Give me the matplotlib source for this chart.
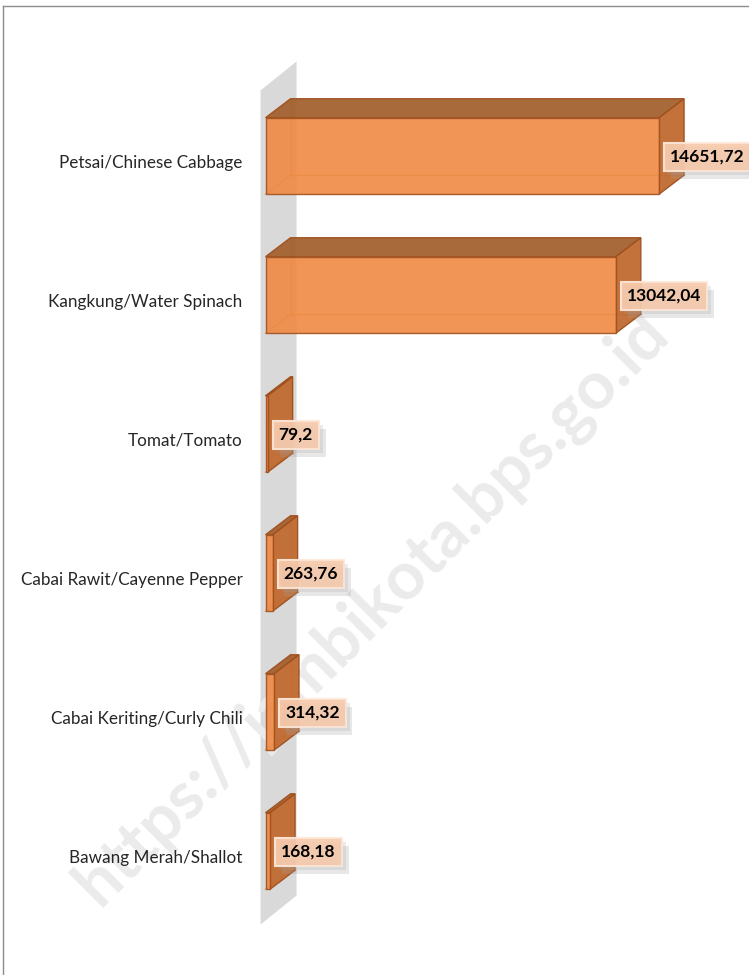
import matplotlib
matplotlib.use('Agg')
import matplotlib.pyplot as plt
import matplotlib.patheffects as pe
from matplotlib.patches import Polygon
from matplotlib.lines import Line2D
from matplotlib.transforms import offset_copy
import numpy as np

categories = ['Petsai/Chinese Cabbage', 'Kangkung/Water Spinach', 'Tomat/Tomato',
              'Cabai Rawit/Cayenne Pepper', 'Cabai Keriting/Curly Chili',
              'Bawang Merah/Shallot']
values = [14651.72, 13042.04, 79.2, 263.76, 314.32, 168.18]
value_labels = ['14651,72', '13042,04', '79,2', '263,76', '314,32', '168,18']
watermark = 'https://jambikota.bps.go.id'

W, H = 749, 975
plt.rcParams['font.family'] = ['Lato', 'DejaVu Sans']

fig = plt.figure(figsize=(W / 100, H / 100), dpi=100)
ax = fig.add_axes([0.333, 0, 0.667, 1])
ax.set_xlim(-600, 18000)
ax.set_ylim(5.892, -1.122)
ax.axis('off')


def shift(pts, dx, dy):
    # move data points by a fixed number of pixels (3D depth)
    disp = ax.transData.transform(np.asarray(pts, dtype=float)) + [dx, dy]
    return ax.transData.inverted().transform(disp)


# back wall
wf = shift([(0, -0.5), (0, len(values) - 0.5)], -5, -4)
wb = shift(wf, 36, 29)
ax.add_patch(Polygon([wf[0], wb[0], wb[1], wf[1]], closed=True,
                     facecolor='#d9d9d9', edgecolor='none', zorder=1))

# watermark (above the wall, below the bars)
ax.text(0.497, 0.376, watermark, rotation=45, ha='center', va='center',
        fontsize=48, fontweight='bold', color='#ebebeb', zorder=2,
        rotation_mode='anchor', transform=fig.transFigure)

edge = '#a0501e'
h = 0.55
for i, v in enumerate(values):
    y0, y1 = i - h / 2, i + h / 2
    front = np.array([(0, y0), (v, y0), (v, y1), (0, y1)])
    back = shift(front, 25, 19)
    # hidden edges seen through the translucent bar
    for a, b in [(back[0], back[3]), (back[3], back[2]), (front[3], back[3])]:
        ax.plot([a[0], b[0]], [a[1], b[1]], color='#d2691e', lw=1, alpha=0.6, zorder=3)
    ax.add_patch(Polygon([front[0], front[1], back[1], back[0]], closed=True,
                         facecolor='#a4622f', edgecolor=edge, lw=1, alpha=0.95, zorder=4))
    ax.add_patch(Polygon([front[1], front[2], back[2], back[1]], closed=True,
                         facecolor='#c06a30', edgecolor=edge, lw=1, alpha=0.95, zorder=4))
    ax.add_patch(Polygon(front, closed=True, facecolor='#ef8a43', edgecolor=edge,
                         lw=1, alpha=0.9, zorder=5))

    ax.text(0, i, categories[i], ha='right', va='center', fontsize=12.3,
            color='#262626', zorder=6,
            transform=offset_copy(ax.transData, fig=fig, x=-23, y=-7, units='dots'))

    t = ax.text(v, i, value_labels[i], ha='left', va='center', fontsize=12.5,
                fontweight='bold', color='black', zorder=7,
                transform=offset_copy(ax.transData, fig=fig, x=11, y=-1, units='dots'),
                bbox=dict(boxstyle='square,pad=0.35', facecolor='#f8cbad', alpha=0.75,
                          edgecolor='#fde9db', lw=1.5))
    t.get_bbox_patch().set_path_effects([
        pe.withSimplePatchShadow(offset=(5, -6), shadow_rgbFace='#a0a0a0', alpha=0.25),
        pe.withSimplePatchShadow(offset=(3, -3), shadow_rgbFace='#a0a0a0', alpha=0.2)])

# frame
fig.add_artist(Line2D([3.5 / W, 3.5 / W], [0, 1 - 5.5 / H], transform=fig.transFigure,
                      color='#8c8c8c', lw=1))
fig.add_artist(Line2D([3.5 / W, 1], [1 - 5.5 / H, 1 - 5.5 / H], transform=fig.transFigure,
                      color='#8c8c8c', lw=1))

fig.savefig('out.png', dpi=100)
